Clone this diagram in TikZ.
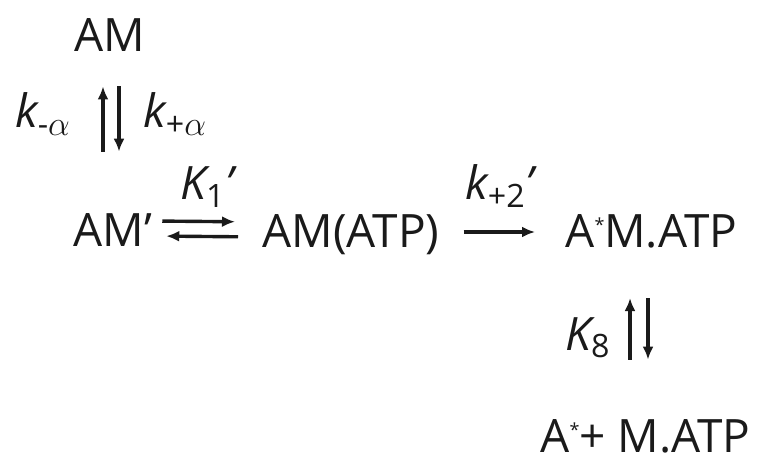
\documentclass[tikz,border=0pt]{standalone}
\usepackage{fontspec}
\setmainfont{Open Sans}
\usepackage{tikz}
\usetikzlibrary{arrows.meta,positioning,calc}
\definecolor{ink}{HTML}{1A1A1A}
\tikzset{
  species/.style={inner sep=0pt, text=ink, font=\fontsize{23}{27}\selectfont},
  rate/.style={species, font=\fontsize{23}{27}\selectfont\itshape},
  fwd/.style={-{Latex[length=6.5pt,width=5.5pt]}, draw=ink, line width=1.7pt},
}
\newcommand{\sub}[1]{\textsubscript{\upshape #1}}
\newcommand{\astr}{\raisebox{8pt}{\fontsize{9}{9}\selectfont *}}

\begin{document}
\begin{tikzpicture}[x=0.5pt, y=-0.5pt]
\useasboundingbox (0,0) rectangle (769,464);
% species
\node[species, anchor=base] (am) at (110,52) {AM};
\node[species, anchor=base west] (amp) at (73,247) {AM’};
\node[species, anchor=base west] (amatp) at (262,248) {AM(ATP)};
\node[species, anchor=base west] (astar) at (565,248) {A\astr M.ATP};
\node[species, anchor=base west] (prod) at (540,452) {A\astr + M.ATP};
% rate constants
\node[rate, anchor=base west] (kma) at (15,128) {k\sub{-$\alpha$}};
\node[rate, anchor=base west] (kpa) at (143,128) {k\sub{+$\alpha$}};
\node[rate, anchor=base west] (kone) at (180,200) {K\sub{1}’};
\node[rate, anchor=base west] (ktwo) at (465,200) {k\sub{+2}’};
\node[rate, anchor=base west] (keight) at (565,350) {K\sub{8}};
% AM <-> AM'
\draw[fwd, shorten <=31pt, shorten >=17pt] ([xshift=-3.5pt]am.south |- amp.north) -- ([xshift=-3.5pt]am.south);
\draw[fwd, shorten <=17pt, shorten >=31pt] ([xshift=4.5pt]am.south) -- ([xshift=4.5pt]am.south |- amp.north);
% AM' <-> AM(ATP)
\draw[fwd, shorten <=5pt, shorten >=13.5pt] ([yshift=13pt]amp.base east) -- ([yshift=13pt]amatp.base west);
\draw[fwd, shorten <=12pt, shorten >=7pt] ([yshift=5.5pt]amatp.base west) -- ([yshift=5.5pt]amp.base east);
% AM(ATP) -> A*M.ATP
\draw[fwd, shorten <=12pt, shorten >=15pt] ([yshift=8pt]amatp.base east) -- ([yshift=8pt]astar.base west);
% A*M.ATP <-> A* + M.ATP
\draw[fwd, shorten <=29.5pt, shorten >=24.5pt] ([xshift=32.5pt]astar.south west |- prod.north) -- ([xshift=32.5pt]astar.south west);
\draw[fwd, shorten <=24.5pt, shorten >=29.5pt] ([xshift=41.5pt]astar.south west) -- ([xshift=41.5pt]astar.south west |- prod.north);
\end{tikzpicture}
\end{document}
